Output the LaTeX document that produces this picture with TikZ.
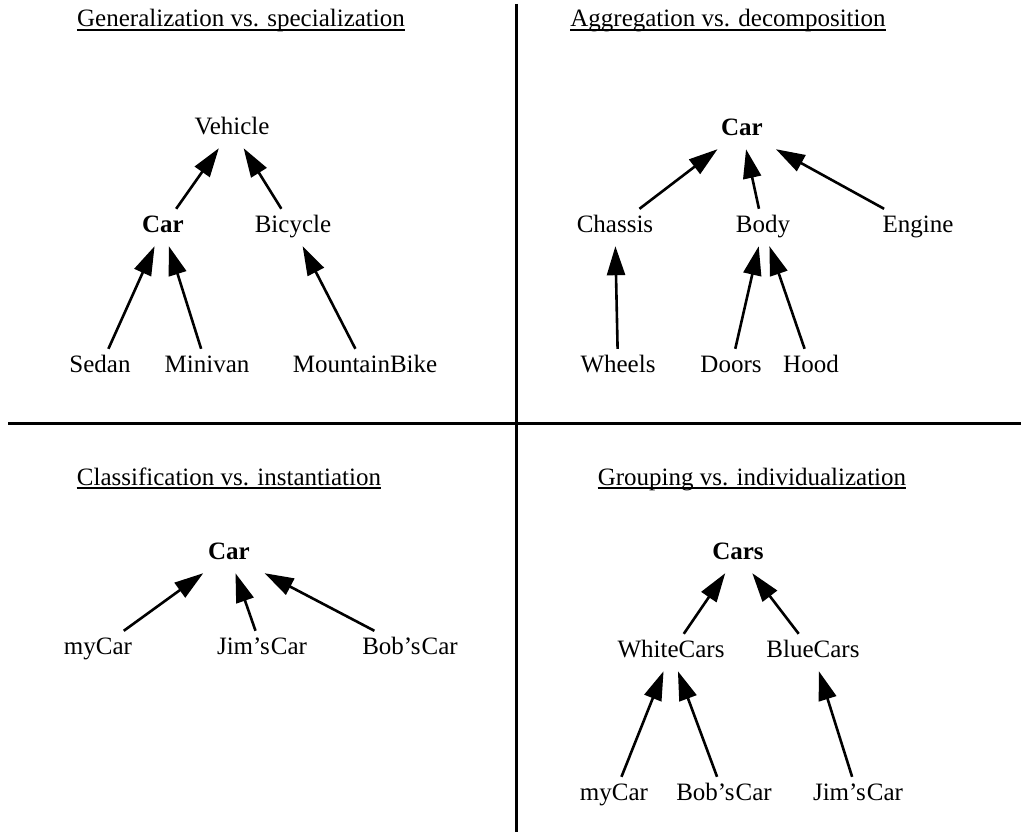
\documentclass[tikz,border=0pt]{standalone}
\usepackage{fontspec}
\setmainfont{Liberation Serif}
\usetikzlibrary{arrows.meta,calc}
\begin{document}
\begin{tikzpicture}[x=1pt,y=-1pt,
  lbl/.style={font=\fontsize{25}{30}\selectfont, text height=18pt, text depth=8pt,
    inner xsep=0pt, inner ysep=5.5pt, minimum width=86pt, anchor=base},
  root/.style={lbl, font=\fontsize{25}{30}\selectfont\bfseries},
  ttl/.style={font=\fontsize{25}{30}\selectfont, inner sep=0pt, anchor=base},
  uline/.style={line width=1.5pt},
  arr/.style={line width=2.6pt, -{Triangle[length=29pt,width=18pt]}},
  sep/.style={line width=3pt}]
\useasboundingbox (0,0) rectangle (1021,832);
% separators
\coordinate (vt) at (516,4); \coordinate (vb) at (516,832);
\coordinate (hl) at (8,423); \coordinate (hr) at (1021,423);
\draw[sep] (vt) -- (vb);
\draw[sep] (hl) -- (hr);
% titles
\node[ttl] (t1) at (241,27) {Generalization vs. specialization};
\node[ttl] (t2) at (728,27) {Aggregation vs. decomposition};
\node[ttl] (t3) at (229,485) {Classification vs. instantiation};
\node[ttl] (t4) at (752,485) {Grouping vs. individualization};
\foreach \t in {t1,t2,t3,t4}
  \draw[uline] ($(\t.base west)+(0,3)$) -- ($(\t.base east)+(0,3)$);
% top left
\node[lbl]  (vehicle) at (232,134.5) {Vehicle};
\node[root] (carA)    at (163,232.5) {Car};
\node[lbl]  (bicycle) at (293,232.5) {Bicycle};
\node[lbl]  (sedan)   at (100,372.5) {Sedan};
\node[lbl]  (minivan) at (207,372.5) {Minivan};
\node[lbl]  (mbike)   at (365,372.5) {MountainBike};
\draw[arr] (carA) -- (vehicle);
\draw[arr] (bicycle) -- (vehicle);
\draw[arr] (sedan) -- (carA);
\draw[arr] (minivan) -- (carA);
\draw[arr] (mbike) -- (bicycle);
% top right
\node[root] (carB)    at (742,135.5) {Car};
\node[lbl]  (chassis) at (615,232.5) {Chassis};
\node[lbl]  (body)    at (763,232.5) {Body};
\node[lbl]  (engine)  at (918,232.5) {Engine};
\node[lbl]  (wheels)  at (618,372.5) {Wheels};
\node[lbl]  (doors)   at (731,372.5) {Doors};
\node[lbl]  (hood)    at (811,372.5) {Hood};
\draw[arr] (chassis) -- (carB);
\draw[arr] (body) -- (carB);
\draw[arr] (engine) -- (carB);
\draw[arr] (wheels) -- (chassis);
\draw[arr] (doors) -- (body);
\draw[arr] (hood) -- (body);
% bottom left
\node[root] (carC)   at (229,559.5) {Car};
\node[lbl]  (mycarA) at (98,654.5)  {myCar};
\node[lbl]  (jimA)   at (262,654.5) {Jim's\kern1ptCar};
\node[lbl]  (bobA)   at (410,654.5) {Bob's\kern1ptCar};
\draw[arr] (mycarA) -- (carC);
\draw[arr] (jimA) -- (carC);
\draw[arr] (bobA) -- (carC);
% bottom right
\node[root] (cars)   at (738,559.5) {Cars};
\node[lbl]  (white)  at (671,657.5) {WhiteCars};
\node[lbl]  (blue)   at (813,657.5) {BlueCars};
\node[lbl]  (mycarB) at (614,800.5) {myCar};
\node[lbl]  (bobB)   at (724,800.5) {Bob's\kern1ptCar};
\node[lbl]  (jimB)   at (858,800.5) {Jim's\kern1ptCar};
\draw[arr] (white) -- (cars);
\draw[arr] (blue) -- (cars);
\draw[arr] (mycarB) -- (white);
\draw[arr] (bobB) -- (white);
\draw[arr] (jimB) -- (blue);
\end{tikzpicture}
\end{document}
